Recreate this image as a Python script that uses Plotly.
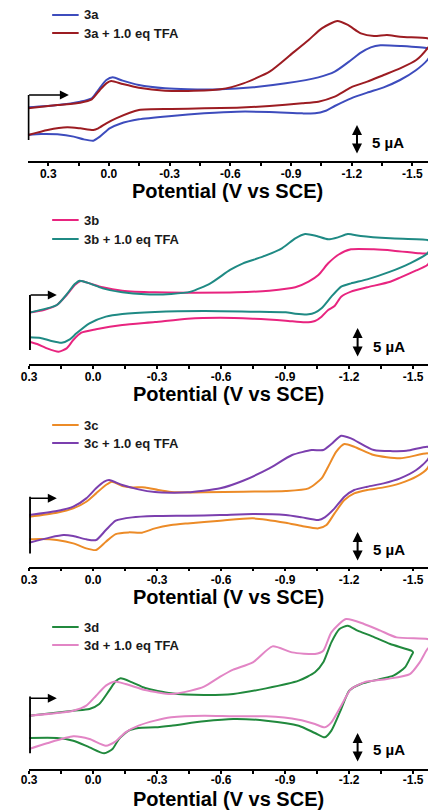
import plotly.graph_objects as go

# ---------------- data (potential in V vs SCE, current in uA, relative) ----------------
# Panel 1: 3a
E_3a = [0.400, 0.255, 0.142, 0.085, 0.053, 0.013, -0.019, -0.068, -0.148, -0.277,
        -0.390, -0.552, -0.713, -0.874, -1.035, -1.116, -1.197, -1.245, -1.294, -1.342,
        -1.439, -1.574, -1.600,
        -1.574, -1.519, -1.439, -1.358, -1.277, -1.197, -1.116, -1.068, -1.019, -0.955,
        -0.794, -0.632, -0.471, -0.310, -0.148, -0.052, -0.003, 0.045, 0.077, 0.126,
        0.174, 0.255, 0.335, 0.400]
I_3a = [8.94, 9.33, 9.89, 10.44, 11.83, 13.50, 13.94, 13.39, 12.67, 12.11,
        11.94, 11.94, 12.28, 12.94, 13.94, 14.89, 16.83, 18.06, 18.94, 19.28,
        19.17, 18.78, 18.30,
        16.83, 15.17, 13.50, 12.28, 11.39, 10.44, 9.17, 8.33, 7.94, 7.94,
        8.17, 8.22, 7.94, 7.50, 6.94, 6.17, 5.44, 4.06, 3.39, 3.61,
        4.06, 4.44, 4.50, 4.33]
E_3a_tfa = [0.400, 0.255, 0.142, 0.085, 0.045, 0.013, -0.011, -0.068, -0.148, -0.277,
            -0.390, -0.552, -0.665, -0.794, -0.906, -0.987, -1.052, -1.129, -1.181, -1.245,
            -1.310, -1.374, -1.439, -1.574, -1.600,
            -1.574, -1.519, -1.439, -1.358, -1.277, -1.197, -1.116, -1.035, -0.955, -0.794,
            -0.632, -0.471, -0.310, -0.148, -0.035, 0.013, 0.053, 0.077, 0.142, 0.206,
            0.303, 0.400]
I_3a_tfa = [8.78, 9.33, 9.72, 10.28, 11.83, 12.94, 13.33, 12.83, 12.22, 11.72,
            11.67, 11.94, 12.94, 14.89, 17.94, 20.17, 22.11, 23.33, 22.67, 21.28,
            20.83, 21.00, 20.72, 20.44, 20.20,
            18.78, 16.83, 15.44, 14.33, 13.22, 12.28, 10.72, 9.89, 9.61, 9.17,
            8.89, 8.78, 8.67, 8.50, 7.11, 6.28, 5.44, 5.17, 5.44, 5.61,
            5.17, 4.33]

# Panel 2: 3b
E_3b = [0.300, 0.231, 0.170, 0.124, 0.086, 0.055, 0.017, -0.045, -0.137, -0.290,
        -0.443, -0.673, -0.826, -0.948, -1.010, -1.056, -1.102, -1.148, -1.209, -1.316,
        -1.408, -1.531, -1.590,
        -1.567, -1.515, -1.439, -1.393, -1.285, -1.209, -1.163, -1.132, -1.102, -1.071,
        -1.040, -0.994, -0.903, -0.749, -0.596, -0.443, -0.290, -0.137, -0.014, 0.055,
        0.093, 0.124, 0.162, 0.216, 0.262, 0.300]
I_3b = [8.56, 9.00, 9.83, 11.50, 13.17, 13.83, 13.44, 12.78, 12.22, 11.94,
        11.89, 11.94, 12.22, 12.78, 13.72, 14.83, 16.78, 18.17, 19.11, 19.11,
        18.89, 18.44, 18.30,
        16.50, 15.60, 14.40, 13.72, 12.78, 12.06, 11.22, 9.67, 9.00, 7.89,
        7.17, 6.94, 7.22, 7.56, 7.72, 7.56, 7.00, 6.50, 5.78, 5.22,
        4.00, 2.61, 2.06, 2.61, 3.33, 3.72]
E_3b_tfa = [0.300, 0.170, 0.124, 0.086, 0.063, 0.017, -0.045, -0.137, -0.244, -0.366,
            -0.458, -0.550, -0.642, -0.703, -0.795, -0.887, -0.948, -0.994, -1.048, -1.102,
            -1.148, -1.194, -1.255, -1.393, -1.567, -1.590,
            -1.567, -1.485, -1.393, -1.285, -1.209, -1.163, -1.117, -1.071, -1.040, -1.010,
            -0.948, -0.903, -0.749, -0.520, -0.290, -0.137, -0.060, 0.017, 0.078, 0.109,
            0.147, 0.200, 0.246, 0.300]
I_3b_tfa = [8.56, 9.83, 11.61, 13.33, 13.89, 13.44, 12.61, 11.94, 11.61, 11.67,
            12.06, 13.44, 15.67, 16.78, 17.89, 19.33, 20.94, 21.67, 21.33, 20.78,
            21.11, 21.67, 21.33, 20.94, 20.67, 20.30,
            18.44, 16.78, 15.39, 14.11, 13.44, 12.89, 11.22, 9.28, 8.56, 8.28,
            8.39, 8.61, 8.72, 8.83, 8.67, 8.33, 7.89, 6.78, 5.11, 4.11,
            3.56, 3.89, 4.33, 4.44]

# Panel 3: 3c
E_3c = [0.300, 0.170, 0.093, 0.032, -0.014, -0.060, -0.088, -0.137, -0.183, -0.244,
        -0.305, -0.366, -0.520, -0.703, -0.903, -1.010, -1.071, -1.102, -1.140, -1.178,
        -1.224, -1.316, -1.439, -1.567, -1.590,
        -1.567, -1.515, -1.439, -1.362, -1.285, -1.224, -1.178, -1.132, -1.094, -1.056,
        -0.979, -0.903, -0.749, -0.596, -0.443, -0.366, -0.290, -0.229, -0.167, -0.106,
        -0.060, -0.014, 0.032, 0.093, 0.170, 0.246, 0.300]
I_3c = [8.33, 9.00, 9.72, 10.83, 12.22, 13.61, 14.17, 13.44, 13.22, 13.22,
        12.78, 12.44, 12.39, 12.50, 12.61, 13.06, 14.72, 16.67, 19.17, 20.44,
        20.00, 18.61, 18.06, 18.89, 18.60,
        16.39, 15.00, 13.89, 13.22, 12.78, 12.22, 11.11, 8.89, 6.94, 6.39,
        6.78, 7.33, 8.06, 7.67, 7.22, 6.94, 6.39, 5.67, 5.72, 5.44,
        4.17, 2.78, 3.06, 3.89, 4.44, 4.61, 4.56]
E_3c_tfa = [0.300, 0.170, 0.093, 0.032, -0.014, -0.052, -0.075, -0.137, -0.213, -0.290,
            -0.366, -0.443, -0.596, -0.703, -0.826, -0.933, -1.025, -1.079, -1.117, -1.163,
            -1.209, -1.316, -1.469, -1.567, -1.590,
            -1.567, -1.515, -1.439, -1.362, -1.285, -1.224, -1.178, -1.132, -1.086, -1.056,
            -0.979, -0.903, -0.749, -0.596, -0.443, -0.290, -0.183, -0.106, -0.060, -0.014,
            0.032, 0.093, 0.139, 0.200, 0.300]
I_3c_tfa = [8.61, 9.28, 10.00, 11.39, 13.06, 14.17, 14.44, 13.61, 12.89, 12.44,
            12.33, 12.39, 13.06, 14.33, 16.39, 18.61, 19.44, 19.44, 20.44, 21.83,
            21.39, 19.44, 19.33, 20.00, 19.50,
            17.78, 16.11, 14.72, 13.89, 13.33, 12.78, 11.67, 9.72, 8.22, 7.78,
            8.22, 8.61, 8.78, 8.61, 8.50, 8.44, 8.22, 7.67, 6.11, 4.44,
            4.56, 5.11, 5.28, 4.89, 4.00]

# Panel 4: 3d
E_3d = [0.300, 0.093, 0.017, -0.029, -0.075, -0.106, -0.129, -0.183, -0.244, -0.366,
        -0.520, -0.657, -0.811, -0.964, -1.040, -1.079, -1.117, -1.155, -1.194, -1.240,
        -1.301, -1.393, -1.492, -1.500,
        -1.492, -1.462, -1.408, -1.347, -1.255, -1.201, -1.163, -1.117, -1.086, -1.040,
        -0.964, -0.811, -0.657, -0.520, -0.366, -0.290, -0.213, -0.167, -0.121, -0.091,
        -0.052, 0.017, 0.093, 0.170, 0.300]
I_3d = [8.89, 9.72, 10.00, 10.83, 13.06, 14.61, 15.11, 14.44, 13.50, 12.61,
        12.33, 12.50, 13.44, 14.72, 16.11, 17.78, 21.11, 23.33, 23.89, 23.06,
        22.22, 20.83, 19.72, 19.44,
        18.89, 16.94, 15.56, 15.00, 14.17, 13.06, 10.00, 6.39, 5.28, 6.00,
        7.22, 8.06, 8.33, 7.94, 7.22, 6.94, 6.83, 6.39, 5.00, 3.33,
        2.61, 3.61, 4.72, 5.17, 5.17]
E_3d_tfa = [0.300, 0.093, 0.032, -0.014, -0.060, -0.098, -0.152, -0.244, -0.366, -0.458,
            -0.520, -0.596, -0.657, -0.749, -0.841, -0.933, -1.040, -1.079, -1.117, -1.186,
            -1.270, -1.347, -1.423, -1.567, -1.600,
            -1.567, -1.531, -1.485, -1.377, -1.270, -1.209, -1.163, -1.117, -1.086, -1.040,
            -0.964, -0.811, -0.657, -0.520, -0.366, -0.290, -0.213, -0.152, -0.106, -0.060,
            0.017, 0.093, 0.216, 0.300]
I_3d_tfa = [8.89, 9.72, 10.56, 12.22, 13.89, 14.56, 14.17, 13.17, 12.50, 13.06,
            13.72, 15.39, 16.56, 17.78, 20.44, 19.44, 19.17, 19.72, 22.78, 25.00,
            24.17, 23.06, 21.94, 21.67, 21.20,
            20.00, 17.78, 15.83, 15.00, 14.44, 13.33, 10.56, 7.78, 6.94, 7.50,
            8.22, 8.78, 8.78, 8.89, 8.61, 8.06, 7.22, 6.11, 4.61, 3.89,
            5.00, 5.44, 4.28, 3.33]

tick_vals = [0.3, 0.15, 0.0, -0.15, -0.3, -0.45, -0.6, -0.75, -0.9, -1.05, -1.2, -1.35, -1.5]
tick_text = ["0.3", "", "0.0", "", "-0.3", "", "-0.6", "", "-0.9", "", "-1.2", "", "-1.5"]

names = [("3a", "3a + 1.0 eq TFA"), ("3b", "3b + 1.0 eq TFA"),
         ("3c", "3c + 1.0 eq TFA"), ("3d", "3d + 1.0 eq TFA")]
series = [((E_3a, I_3a), (E_3a_tfa, I_3a_tfa)),
          ((E_3b, I_3b), (E_3b_tfa, I_3b_tfa)),
          ((E_3c, I_3c), (E_3c_tfa, I_3c_tfa)),
          ((E_3d, I_3d), (E_3d_tfa, I_3d_tfa))]

# ---------------- layout / style ----------------
W, H = 428, 810
colors = [("#3d4cbd", "#9c1c22"), ("#e8247f", "#1f8a84"),
          ("#ec8b27", "#7b3fae"), ("#21893d", "#e285c5")]
# panel pixel geometry: (x_left_px, axis_px, top_px, x_range)
panels = [(20, 161, 0, [0.402, -1.577]),
          (21.5, 364, 202, [0.3, -1.570]),
          (21.5, 566.7, 405, [0.3, -1.570]),
          (21.5, 769, 607.5, [0.3, -1.570])]
PX_PER_UA = 6.0
legend_rows_px = [(15, 33), (220, 239), (425, 443), (627, 645)]
title_shift = [-30, -30, -30, -29.5]
label_standoff = [-2, -2, -2, -4]
start_arrow = [(11.0, 0.198, (11.0, 3.5)), (11.5, 0.17, (11.5, 2.33)),
               (11.4, 0.17, (11.67, 2.22)), (11.78, 0.17, (12.07, 2.62))]
scale_x = [-1.226, -1.240, -1.240, -1.240]
scale_y = [(1.0, 6.0), (1.0, 6.0), (0.8, 5.8), (1.0, 6.0)]
label_pos = [(-1.381, 3.05), (-1.388, 2.9), (-1.388, 2.8), (-1.388, 3.33)]

FONT = "Liberation Sans, Arial, sans-serif"
fig = go.Figure()
annotations, shapes = [], []
layout = dict(width=W, height=H, margin=dict(l=0, r=0, t=0, b=0),
              paper_bgcolor="white", plot_bgcolor="white", showlegend=False)

for k in range(4):
    xl, ax_px, top_px, xr = panels[k]
    xa = "x" if k == 0 else f"x{k+1}"
    ya = "y" if k == 0 else f"y{k+1}"
    for j in range(2):
        E, I = series[k][j]
        fig.add_trace(go.Scatter(x=E, y=I, mode="lines", name=names[k][j],
                                 line=dict(color=colors[k][j], width=2, shape="spline", smoothing=0.6),
                                 xaxis=xa, yaxis=ya))
        # legend entry (sample line + label)
        ly_px = legend_rows_px[k][j]
        shapes.append(dict(type="line", xref="paper", yref="paper",
                           x0=45 / W, x1=72 / W, y0=1 - ly_px / H, y1=1 - ly_px / H,
                           line=dict(color=colors[k][j], width=2)))
        annotations.append(dict(text=names[k][j], xref="paper", yref="paper",
                                x=75 / W, y=1 - ly_px / H, xanchor="left", yanchor="middle",
                                showarrow=False,
                                font=dict(family=FONT, size=13, color="#1a1a1a", weight="bold")))
    yd = [1 - ax_px / H, 1 - top_px / H]
    layout["xaxis" if k == 0 else f"xaxis{k+1}"] = dict(
        domain=[xl / W, 1], range=xr, anchor=ya, showline=True, linecolor="black",
        linewidth=1.5, ticks="outside", ticklen=3, tickwidth=1.5, tickcolor="black",
        tickvals=tick_vals, ticktext=tick_text, showgrid=False, zeroline=False,
        ticklabelstandoff=label_standoff[k],
        tickfont=dict(family=FONT, size=12, color="black", weight="bold"))
    layout["yaxis" if k == 0 else f"yaxis{k+1}"] = dict(
        domain=yd, range=[0, (ax_px - top_px) / PX_PER_UA], anchor=xa, visible=False)
    # axis title
    annotations.append(dict(text="Potential (V vs SCE)", xref="paper", yref="paper",
                            x=(xl / W + 1) / 2, y=yd[0], yshift=title_shift[k], showarrow=False,
                            xanchor="center", yanchor="middle",
                            font=dict(family=FONT, size=20, color="black", weight="bold")))
    # scan direction arrow and start marker
    ya_y, tip_x, (v0, v1) = start_arrow[k]
    annotations.append(dict(x=tip_x, y=ya_y, ax=xr[0], ay=ya_y, xref=xa, yref=ya,
                            axref=xa, ayref=ya, text="", showarrow=True, arrowhead=2,
                            arrowsize=1.2, arrowwidth=1.5, arrowcolor="black"))
    shapes.append(dict(type="line", xref=xa, yref=ya, x0=xr[0] - 0.004, x1=xr[0] - 0.004,
                       y0=v0, y1=v1, line=dict(color="black", width=2)))
    # 5 uA scale bar
    s0, s1 = scale_y[k]
    annotations.append(dict(x=scale_x[k], y=s1, ax=scale_x[k], ay=s0, xref=xa, yref=ya,
                            axref=xa, ayref=ya, text="", showarrow=True, arrowhead=2,
                            arrowside="end+start", arrowsize=1, arrowwidth=2,
                            arrowcolor="black"))
    lx, ly = label_pos[k]
    annotations.append(dict(x=lx, y=ly, xref=xa, yref=ya, text="5 \u00b5A", showarrow=False,
                            xanchor="center", yanchor="middle",
                            font=dict(family=FONT, size=15, color="black", weight="bold")))

layout["annotations"] = annotations
layout["shapes"] = shapes
fig.update_layout(**layout)
fig.write_html("out.html")
